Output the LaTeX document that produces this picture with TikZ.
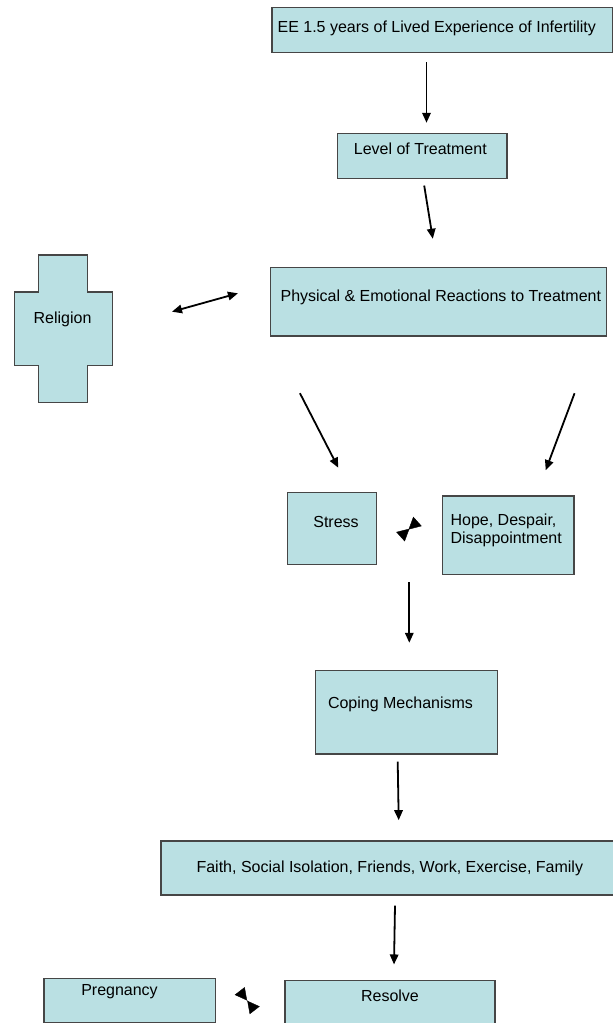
\documentclass[tikz,border=0pt]{standalone}
\usepackage{fontspec}
\setmainfont{Liberation Sans}
\usetikzlibrary{arrows.meta,calc,fit}
\definecolor{boxfill}{RGB}{186,224,227}
\definecolor{boxline}{RGB}{70,70,70}
\tikzset{
  box/.style={draw=boxline, line width=1.1pt, fill=boxfill, inner sep=0pt},
  txt/.style={inner sep=0pt, font=\fontsize{16}{18}\selectfont},
  arr/.style={line width=1.8pt, -{Triangle[length=10pt,width=8.5pt]}},
  twoway/.style={line width=1.8pt, {Triangle[length=10pt,width=8.5pt]}-{Triangle[length=10pt,width=8.5pt]}},
  bow/.style={line width=0.4pt, {Triangle[reversed,length=12pt,width=12.5pt]}-{Triangle[reversed,length=12pt,width=12.5pt]}}
}

\begin{document}
\begin{tikzpicture}[x=1pt,y=-1pt]
\useasboundingbox (0,0) rectangle (613,1023);
\clip (0,0) rectangle (613,1023);
% boxes
\node[box, fit={(272,7.5) (612.5,52.5)}] (ee) {};
\node[box, fit={(337.4,133.3) (507,178.3)}] (lvl) {};
\node[box, fit={(270.5,267.3) (606.7,336)}] (phys) {};
\node[box, fit={(287.3,492.3) (376.7,564.3)}] (stress) {};
\node[box, fit={(442.7,496) (574,574.3)}] (hope) {};
\node[box, fit={(315.3,670.7) (497.7,754)}] (coping) {};
\node[box, fit={(161,841) (616,895)}] (faith) {};
\node[box, fit={(44,978.3) (215.7,1022.3)}] (preg) {};
\node[box, fit={(285,980.7) (495,1035)}] (resolve) {};
% religion cross
\draw[box] (38.7,255) -- (87.6,255) -- (87.6,292) -- (112.2,292) -- (112.2,365.7)
  -- (87.6,365.7) -- (87.6,402.3) -- (38.7,402.3) -- (38.7,365.7) -- (14.5,365.7)
  -- (14.5,292) -- (38.7,292) -- cycle;
\coordinate (relig) at (112.2,329);
% texts
\node[txt, anchor=base west] (eeText) at (277.4,32.4) {EE 1.5 years of Lived Experience of Infertility};
\node[txt, anchor=base] (lvlText) at (420.3,154) {Level of Treatment};
\node[txt, anchor=base] (physText) at (440.8,301.4) {Physical \& Emotional Reactions to Treatment};
\node[txt, anchor=base] (rel) at (62.6,323.4) {Religion};
\node[txt, anchor=base] (stressText) at (336,527.4) {Stress};
\node[txt, anchor=base west, align=left] (hopeText) at (450.4,543) {Hope, Despair,\\Disappointment};
\node[txt, anchor=base] (copingText) at (400.5,708.4) {Coping Mechanisms};
\node[txt, anchor=base] (faithText) at (389.8,872.4) {Faith, Social Isolation, Friends, Work, Exercise, Family};
\node[txt, anchor=base] (pregText) at (119.5,995.7) {Pregnancy};
\node[txt, anchor=base] (resolveText) at (390,1001.7) {Resolve};
% arrows
\draw[arr] ($(ee.south)+(-15.75,9.2)$) -- ($(lvl.north)+(4.3,-10)$);
\draw[arr] ($(lvl.south)+(2,6.7)$) -- ($(phys.north)+(-5.8,-28)$);
\draw[twoway] ($(relig)+(59.8,-17.3)$) -- ($(phys.west)+(-32,-8.35)$);
\draw[arr] ($(phys.south west)+(30,56.7)$) -- ($(stress.north)+(6.3,-24)$);
\draw[arr] ($(phys.south east)+(-32.7,56.7)$) -- ($(hope.north)+(37.35,-25.3)$);
\coordinate (b1) at ($(stress.east)!.5!(hope.west)$);
\draw[bow] ($(b1)+(-9.2,5)$) -- ($(b1)+(7.8,-10.3)$);
\draw[arr] ($(coping.north)+(2.8,-87.7)$) -- ($(coping.north)+(2.8,-27.4)$);
\draw[arr] ($(coping.south)+(-8.8,7)$) -- ($(faith.north)+(10.2,-20.3)$);
\draw[arr] ($(faith.south)+(6.5,10)$) -- ($(resolve.north)+(4,-15.7)$);
\coordinate (b2) at ($(preg.east)!.5!(resolve.west)$);
\draw[bow] ($(b2)+(-10.65,-13.1)$) -- ($(b2)+(4.35,6.2)$);
\end{tikzpicture}
\end{document}
